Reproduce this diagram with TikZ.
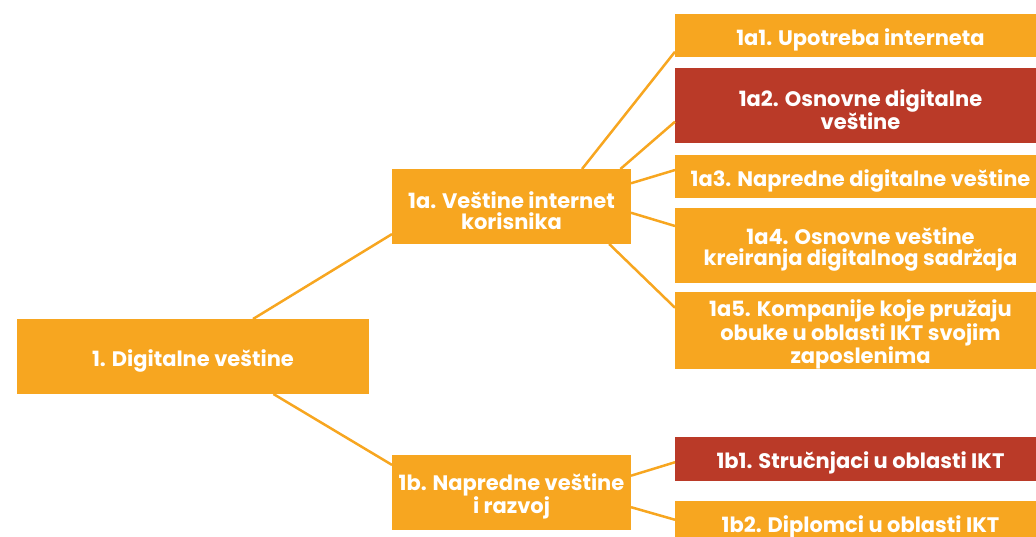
\documentclass[tikz,border=0pt]{standalone}
\usepackage{fontspec}
\setmainfont{Poppins}
\definecolor{boxorange}{HTML}{F7A620}
\definecolor{boxred}{HTML}{BA3A28}
% tall invisible strut that sets the text a little lower in its box
\newcommand{\capstrut}{\rule{0pt}{25pt}}
\begin{document}
\begin{tikzpicture}[x=1pt,y=-1pt,
  box/.style={fill=boxorange, text=white, font=\bfseries\fontsize{21}{21}\selectfont,
    align=center, inner sep=0pt, outer sep=0pt, minimum height=75pt},
  redbox/.style={box, fill=boxred},
  leaf/.style={minimum width=371pt},
  mid/.style={minimum width=239pt},
  link/.style={draw=boxorange, line width=2.5pt}]
\clip (0,0) rectangle (1036,537);

% root and second level
\node[box, minimum width=352pt] (root) at (193,356.5) {\capstrut 1. Digitalne veštine};
\node[box, mid] (a) at (511.5,206.5) {\capstrut 1a. Veštine internet\\korisnika};
\node[box, mid] (b) at (511.5,492.5) {\capstrut 1b. Napredne veštine\\i razvoj};

% leaves of 1a
\node[box, leaf, minimum height=43pt] (a1) at (860.5,35.5) {\capstrut 1a1. Upotreba interneta};
\node[redbox, leaf] (a2) at (860.5,105.5) {\capstrut 1a2. Osnovne digitalne\\veštine};
\node[box, leaf, minimum height=43pt] (a3) at (860.5,176.5) {\capstrut 1a3. Napredne digitalne veštine};
\node[box, leaf] (a4) at (860.5,245.5) {\capstrut 1a4. Osnovne veštine\\kreiranja digitalnog sadržaja};
\node[box, leaf] (a5) at (860.5,330.5) {\capstrut 1a5. Kompanije koje pružaju\\obuke u oblasti IKT svojim\\zaposlenima};

% leaves of 1b
\node[redbox, leaf, minimum height=44pt] (b1) at (860.5,459) {\capstrut 1b1. Stručnjaci u oblasti IKT};
\node[box, leaf, minimum height=44pt] (b2) at (860.5,523) {\capstrut 1b2. Diplomci u oblasti IKT};

% connectors
\draw[link] (root.32.9) -- (a.193.4);
\draw[link] (root.-25.4) -- (b.167.95);
\draw[link] (a.28.7) -- (a1.185.39);
\draw[link] (a.19.07) -- (a2.185.39);
\draw[link] (a.11.13) -- (a3.178.92);
\draw[link] (a.-3.11) -- (a4.174.61);
\draw[link] (a.-21.24) -- (a5.173.69);
\draw[link] (b.8.8) -- (b1.181.85);
\draw[link] (b.-7.87) -- (b2.179.7);
\end{tikzpicture}
\end{document}
